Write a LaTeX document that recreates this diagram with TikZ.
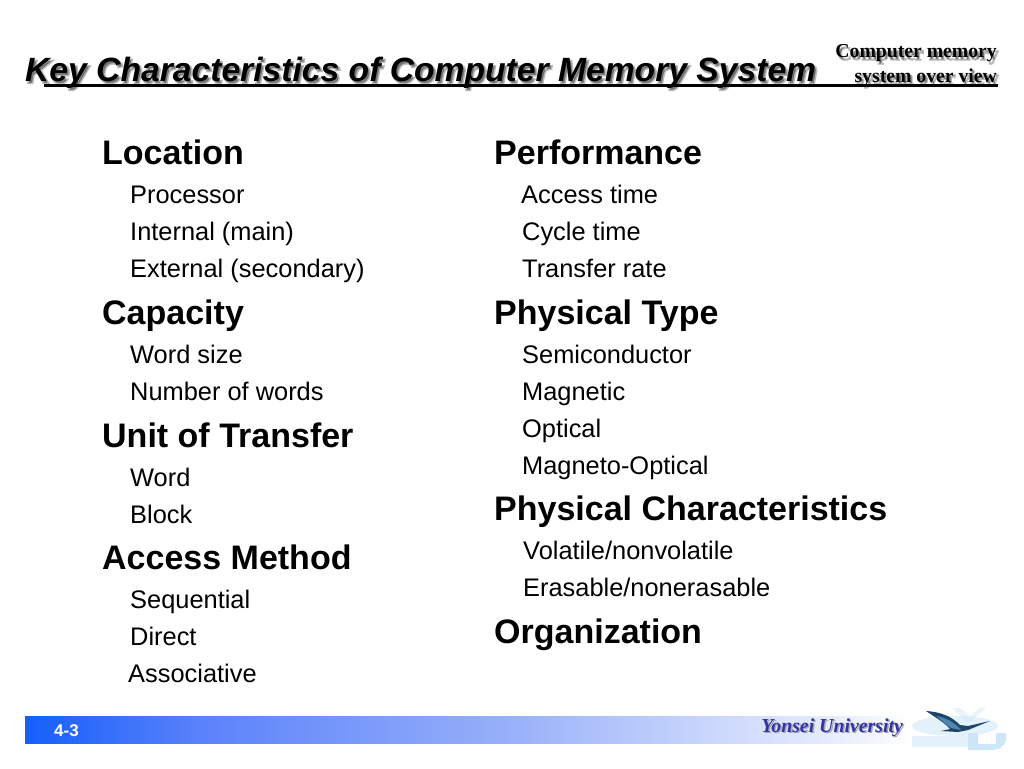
\documentclass[tikz,border=0pt]{standalone}
\usepackage{fontspec}
\setmainfont{Liberation Sans}
\newfontfamily\serifx{Liberation Serif}
\usetikzlibrary{shadings,fadings}
\definecolor{barblue}{RGB}{20,95,250}
\definecolor{barmid}{RGB}{90,130,250}
\definecolor{barpale}{RGB}{150,175,250}
\definecolor{barend}{RGB}{238,242,253}
\definecolor{uniblue}{RGB}{50,50,170}
\definecolor{logopale}{RGB}{205,230,248}
\definecolor{birddark}{RGB}{30,70,105}
\definecolor{birdmid}{RGB}{80,135,175}
\newcommand{\hfontx}{\fontsize{34}{36}\selectfont\bfseries}
\newcommand{\sfontx}{\fontsize{25.4}{28}\selectfont}
% soft-looking shadow: one copy of the text, filled and stroked in greys
\newcommand{\softx}[2]{\special{pdf:code #1 Tr #2 w 0.72 G 0.45 g}}
\tikzset{x=1pt,y=-1pt,
  head/.style={anchor=base west,inner sep=0pt,font=\hfontx},
  sub/.style={anchor=base west,inner sep=0pt,font=\sfontx},
  titletext/.style={anchor=base west,inner sep=0pt,font=\fontsize{33.65}{36}\selectfont\bfseries\itshape},
  cornertext/.style={anchor=base east,inner sep=0pt,font=\serifx\fontsize{19.7}{21}\selectfont\bfseries},
  unitext/.style={anchor=base east,inner sep=0pt,font=\serifx\fontsize{19.8}{21}\selectfont\bfseries\itshape}
}
\begin{document}
\begin{tikzpicture}
\useasboundingbox (0,0) rectangle (1024,768);
\fill[white] (0,0) rectangle (1024,768);
% title shadows
\node[titletext,text=black!45] at (27,83.5) {\softx{2}{1.4}Key Characteristics of Computer Memory System\softx{0}{1}};
\node[cornertext,text=black!45] at (999,60) {\softx{2}{1}Computer memory\softx{0}{1}};
\node[cornertext,text=black!45] at (999,84) {\softx{2}{1}system over view\softx{0}{1}};
\node[titletext] (title) at (25,81.5) {Key Characteristics of Computer Memory System};
\node[cornertext] (c1) at (997,58) {Computer memory};
\node[cornertext] (c2) at (997,82) {system over view};
\fill[black] (44,84) rectangle (998,86.8);
% left column
\node[head] (h1) at (102,164.3) {Location};
\node[sub] (a1) at (130,203) {Processor};
\node[sub] (a2) at (130,240) {Internal (main)};
\node[sub] (a3) at (130,277) {External (secondary)};
\node[head] (h2) at (102,324.3) {Capacity};
\node[sub] (b1) at (130,363) {Word size};
\node[sub] (b2) at (130,400) {Number of words};
\node[head] (h3) at (102,447.3) {Unit of Transfer};
\node[sub] (c1b) at (130,486) {Word};
\node[sub] (c2b) at (130,523) {Block};
\node[head] (h4) at (102,569.3) {Access Method};
\node[sub] (d1) at (130,608.5) {Sequential};
\node[sub] (d2) at (130,645.3) {Direct};
\node[sub] (d3) at (128,682.3) {Associative};
% right column
\node[head] (r1) at (494,164.3) {Performance};
\node[sub] (e1) at (521,203) {Access time};
\node[sub] (e2) at (522,240) {Cycle time};
\node[sub] (e3) at (522,277) {Transfer rate};
\node[head] (r2) at (494,324.3) {Physical Type};
\node[sub] (f1) at (522,363) {Semiconductor};
\node[sub] (f2) at (522,400) {Magnetic};
\node[sub] (f3) at (522,437) {Optical};
\node[sub] (f4) at (522,474) {Magneto-Optical};
\node[head] (r3) at (494,520.3) {Physical Characteristics};
\node[sub] (g1) at (523,559.3) {Volatile/nonvolatile};
\node[sub] (g2) at (523,596.3) {Erasable/nonerasable};
\node[head] (r4) at (494,643.3) {Organization};
% footer bar
\shade[left color=barblue,right color=barmid] (25,716) rectangle (200,743);
\shade[left color=barmid,right color=barpale] (199.5,716) rectangle (500,743);
\shade[left color=barpale,right color=barend] (499.5,716) rectangle (860,743);
\shade[left color=barend,right color=white] (859.5,716) rectangle (910,743);
\node[anchor=base west,inner sep=0pt,text=white,font=\fontsize{17}{19}\selectfont\bfseries] (pg) at (54,736.5) {4-3};
\node[unitext,text=black!35] at (904.5,733.5) {Yonsei University};
\node[unitext,text=uniblue] (uni) at (903,732.5) {Yonsei University};
% logo
\fill[logopale,opacity=.55] (955,726) ellipse (43 and 10);
\fill[logopale,opacity=.55] (912,736) rectangle (975,747);
\fill[logopale] (968,733) -- (978,733) -- (978,744) -- (996,744) -- (996,733) -- (1006,733) -- (1006,740) .. controls (1004,748) and (998,750) .. (990,750) -- (968,750) -- cycle;
\fill[logopale,opacity=.45] (953,708) -- (960,708) -- (970,716) -- (980,708) -- (986,708) -- (970,722) -- (966,722) -- cycle;
\fill[birddark] (926,711) .. controls (942,712) and (952,717) .. (960,725) -- (968,726) -- (990,721) -- (968,730) -- (958,732) -- (941,731) -- (950,729) .. controls (944,722) and (936,718) .. (926,711) -- cycle;
\fill[birdmid] (936,716) .. controls (948,718) and (956,724) .. (961,730) -- (951,728) -- cycle;
\end{tikzpicture}
\end{document}
